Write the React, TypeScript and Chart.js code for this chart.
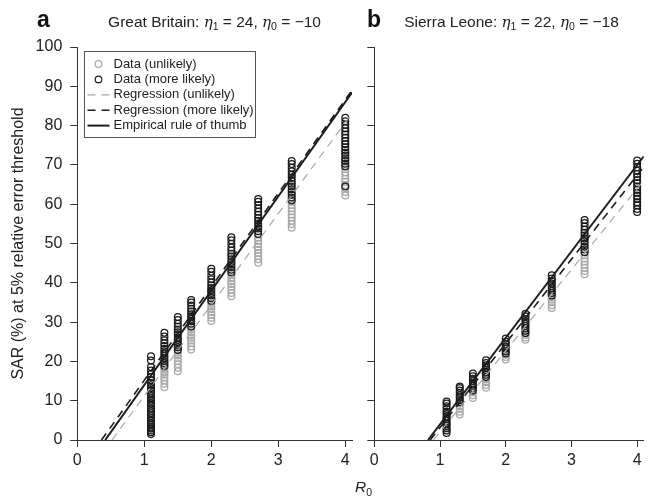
import React, { useEffect, useRef } from 'react';
import { Chart, registerables } from 'chart.js';

Chart.register(...registerables);

const FONT = "'Liberation Sans', Arial, Helvetica, sans-serif";
const BLACK = '#1c1c1c';
const GRAY = '#a9a9a9';
const AXIS = '#333333';

// ---------- data ----------
const R0_VALUES = [1.1, 1.3, 1.5, 1.7, 2.0, 2.3, 2.7, 3.2, 4.0];
const X_TICKS = [0, 1, 2, 3, 4];
const Y_TICKS = [0, 10, 20, 30, 40, 50, 60, 70, 80, 90, 100];
const X_MAX = 4.1;
const Y_MAX = 100;

// Great Britain, SAR values at each R0 (more likely / unlikely scenarios)
const gbLikely: number[][] = [
  [1.5, 2.0, 2.4, 2.9, 3.3, 3.8, 4.2, 4.9, 5.5, 6.1, 6.8, 7.4, 8.0, 8.7, 9.3, 10.0, 10.6, 11.2, 11.9, 12.5, 13.2, 13.9, 14.5, 15.2, 16.0, 16.8, 17.7, 18.6, 20.2, 21.3],
  [18.8, 19.5, 20.1, 20.8, 21.4, 22.0, 22.6, 23.2, 23.9, 24.6, 25.4, 26.3, 27.3],
  [22.9, 23.6, 24.2, 24.9, 25.5, 26.1, 26.8, 27.4, 28.1, 28.8, 29.6, 30.5, 31.3],
  [28.9, 29.6, 30.2, 30.8, 31.4, 32.0, 32.7, 33.4, 34.2, 35.0, 35.6],
  [35.4, 36.1, 36.8, 37.4, 38.1, 38.7, 39.4, 40.1, 40.9, 41.8, 42.8, 43.6],
  [42.6, 43.3, 44.0, 44.7, 45.3, 46.0, 46.7, 47.4, 48.2, 49.0, 49.9, 50.8, 51.6],
  [52.4, 53.1, 53.8, 54.4, 55.1, 55.8, 56.5, 57.3, 58.1, 58.9, 59.8, 60.6, 61.3],
  [61.0, 61.7, 62.4, 63.1, 63.8, 64.5, 65.2, 65.9, 66.7, 67.5, 68.4, 69.3, 70.2, 71.0],
  [64.5, 69.6, 70.3, 71.0, 71.7, 72.4, 73.1, 73.8, 74.5, 75.3, 76.1, 76.9, 77.7, 78.5, 79.3, 80.2, 81.1, 82.0],
];
const gbUnlikely: number[][] = [
  [3.0, 4.5, 6.2, 8.0, 9.7, 11.5, 13.0],
  [13.4, 14.3, 15.2, 15.9, 16.6, 17.2, 17.9, 18.5, 19.2, 20.0],
  [17.5, 18.4, 19.3, 20.1, 20.8, 21.5, 22.2, 22.9, 23.6],
  [23.0, 23.8, 24.6, 25.3, 26.0, 26.7, 27.4, 28.1, 28.8],
  [30.3, 31.1, 31.9, 32.6, 33.3, 34.0, 34.7, 35.4, 36.1],
  [36.6, 37.4, 38.2, 39.0, 39.7, 40.4, 41.2, 42.0, 42.8],
  [45.1, 46.0, 46.8, 47.6, 48.4, 49.1, 49.9, 50.7, 51.5, 52.3],
  [54.0, 54.9, 55.8, 56.6, 57.4, 58.2, 59.0, 59.8, 60.6],
  [62.2, 63.1, 64.0, 64.9, 65.7, 66.5, 67.3, 68.1, 68.9, 69.7, 71.2, 73.0, 75.2],
];

// Sierra Leone
const slLikely: number[][] = [
  [1.8, 2.4, 3.0, 3.6, 4.2, 4.8, 5.4, 6.0, 6.6, 7.2, 7.9, 8.6, 9.3, 9.8],
  [9.6, 10.2, 10.8, 11.4, 12.0, 12.6, 13.2, 13.6],
  [12.6, 13.2, 13.8, 14.4, 15.0, 15.6, 16.2, 16.9],
  [16.0, 16.6, 17.2, 17.8, 18.4, 19.0, 19.6, 20.3],
  [22.0, 22.6, 23.2, 23.8, 24.4, 25.0, 25.8],
  [27.2, 27.8, 28.4, 29.0, 29.6, 30.2, 30.8, 31.5, 32.1],
  [36.8, 37.4, 38.0, 38.6, 39.2, 39.8, 40.4, 41.1, 41.9],
  [47.8, 48.5, 49.2, 49.9, 50.6, 51.3, 52.0, 52.7, 53.5, 54.3, 55.2, 56.0],
  [58.0, 58.8, 59.7, 60.5, 61.3, 62.1, 62.9, 63.7, 64.5, 65.3, 66.1, 66.9, 67.7, 68.5, 69.4, 70.3, 71.1],
];
const slUnlikely: number[][] = [
  [2.5, 4.0, 5.5, 7.0],
  [6.5, 7.2, 7.9, 8.6, 9.3, 9.9],
  [10.7, 11.4, 12.1, 12.8],
  [13.3, 14.0, 14.7, 15.4, 16.1],
  [20.5, 21.1, 21.7, 22.3],
  [25.5, 26.1, 26.7, 27.3],
  [33.6, 34.3, 35.0, 35.7, 36.4, 37.0],
  [42.2, 43.0, 43.8, 44.6, 45.4, 46.2, 47.0, 47.8],
  [60.2, 61.5, 62.8, 64.1, 65.4],
];

// line coefficients [eta1 (slope), eta0 (intercept)]
type Coef = [number, number];
const gbRule: Coef = [24, -10];
const gbRegLikely: Coef = [23.8, -8.6];
const gbRegUnlikely: Coef = [23.2, -12];
const slRule: Coef = [22, -18];
const slRegLikely: Coef = [21.4, -18.2];
const slRegUnlikely: Coef = [20.65, -18.6];

const Y_TITLE = 'SAR (%) at 5% relative error threshold';
const LEGEND_LABELS = [
  'Data (unlikely)',
  'Data (more likely)',
  'Regression (unlikely)',
  'Regression (more likely)',
  'Empirical rule of thumb',
];

// ---------- helpers ----------
function clusterPoints(values: number[][]) {
  return R0_VALUES.flatMap((r, i) => values[i].map((v) => ({ x: r, y: v })));
}
function linePoints([eta1, eta0]: Coef) {
  return [
    { x: -eta0 / eta1, y: 0 },
    { x: X_MAX, y: eta1 * X_MAX + eta0 },
  ];
}

const legendPlugin = {
  id: 'panelLegend',
  afterDraw(chart: any) {
    const ctx = chart.ctx as CanvasRenderingContext2D;
    const { left, top } = chart.chartArea;
    const bx = Math.round(left + 7) + 0.5;
    const by = Math.round(top + 4) + 0.5;
    const bw = 171;
    const bh = 86;
    ctx.save();
    ctx.fillStyle = '#ffffff';
    ctx.fillRect(bx, by, bw, bh);
    ctx.strokeStyle = '#555555';
    ctx.lineWidth = 1;
    ctx.strokeRect(bx, by, bw, bh);
    const styles = [
      { kind: 'circle', color: GRAY },
      { kind: 'circle', color: BLACK },
      { kind: 'dash', color: GRAY, width: 1.2 },
      { kind: 'dash', color: BLACK, width: 1.6 },
      { kind: 'solid', color: BLACK, width: 2 },
    ];
    const x0 = bx + 3;
    const x1 = bx + 25;
    const cx = (x0 + x1) / 2;
    ctx.font = `13px ${FONT}`;
    ctx.textBaseline = 'middle';
    ctx.textAlign = 'left';
    LEGEND_LABELS.forEach((label, i) => {
      const y = by + 12.5 + i * 15.4;
      const st = styles[i];
      ctx.strokeStyle = st.color;
      if (st.kind === 'circle') {
        ctx.lineWidth = 1.2;
        ctx.setLineDash([]);
        ctx.beginPath();
        ctx.arc(cx, y, 3.3, 0, Math.PI * 2);
        ctx.stroke();
      } else {
        ctx.lineWidth = st.width as number;
        ctx.setLineDash(st.kind === 'dash' ? [8, 6] : []);
        ctx.beginPath();
        ctx.moveTo(x0, y);
        ctx.lineTo(x1, y);
        ctx.stroke();
      }
      ctx.setLineDash([]);
      ctx.fillStyle = '#222222';
      ctx.fillText(label, bx + 29, y);
    });
    ctx.restore();
  },
};

function makeConfig(opts: {
  likely: number[][];
  unlikely: number[][];
  rule: Coef;
  regLikely: Coef;
  regUnlikely: Coef;
  yLabels: boolean;
  yAxisWidth: number;
  padRight: number;
  legend: boolean;
}): any {
  const scatterBase = {
    type: 'scatter',
    showLine: false,
    pointStyle: 'circle',
    pointRadius: 3.4,
    pointBorderWidth: 1.25,
    backgroundColor: 'rgba(0,0,0,0)',
    pointBackgroundColor: 'rgba(0,0,0,0)',
  };
  const lineBase = {
    type: 'scatter',
    showLine: true,
    pointRadius: 0,
    fill: false,
    tension: 0,
  };
  return {
    type: 'scatter',
    data: {
      datasets: [
        {
          ...lineBase,
          label: 'Empirical rule of thumb',
          data: linePoints(opts.rule),
          borderColor: BLACK,
          borderWidth: 2,
          order: 0,
        },
        {
          ...lineBase,
          label: 'Regression (more likely)',
          data: linePoints(opts.regLikely),
          borderColor: BLACK,
          borderWidth: 1.6,
          borderDash: [8, 6],
          order: 1,
        },
        {
          ...lineBase,
          label: 'Regression (unlikely)',
          data: linePoints(opts.regUnlikely),
          borderColor: GRAY,
          borderWidth: 1.2,
          borderDash: [8, 6],
          order: 2,
        },
        {
          ...scatterBase,
          label: 'Data (more likely)',
          data: clusterPoints(opts.likely),
          borderColor: BLACK,
          pointBorderColor: BLACK,
          order: 3,
        },
        {
          ...scatterBase,
          label: 'Data (unlikely)',
          data: clusterPoints(opts.unlikely),
          borderColor: GRAY,
          pointBorderColor: GRAY,
          order: 4,
        },
      ],
    },
    options: {
      responsive: false,
      animation: false,
      events: [],
      layout: { padding: { left: 0, right: opts.padRight, top: 47, bottom: 0 } },
      plugins: {
        legend: { display: false },
        tooltip: { enabled: false },
        title: { display: false },
      },
      scales: {
        x: {
          type: 'linear',
          min: 0,
          max: X_MAX,
          afterBuildTicks: (s: any) => {
            s.ticks = X_TICKS.map((v) => ({ value: v }));
          },
          afterFit: (s: any) => {
            s.height = 58;
          },
          grid: { drawOnChartArea: false, drawTicks: true, tickLength: 7, color: AXIS, lineWidth: 1 },
          border: { display: true, color: AXIS, width: 1 },
          ticks: {
            font: { family: FONT, size: 16 },
            color: '#222222',
            padding: 4,
            maxRotation: 0,
            autoSkip: false,
          },
        },
        y: {
          type: 'linear',
          min: 0,
          max: Y_MAX,
          afterBuildTicks: (s: any) => {
            s.ticks = Y_TICKS.map((v) => ({ value: v }));
          },
          afterFit: (s: any) => {
            s.width = opts.yAxisWidth;
          },
          grid: { drawOnChartArea: false, drawTicks: true, tickLength: 7, color: AXIS, lineWidth: 1 },
          border: { display: true, color: AXIS, width: 1 },
          ticks: {
            font: { family: FONT, size: 16 },
            color: '#222222',
            padding: 8,
            autoSkip: false,
            callback: (v: any) => (opts.yLabels ? String(v) : ''),
          },
          title: {
            display: opts.yLabels,
            text: Y_TITLE,
            font: { family: FONT, size: 16 },
            color: '#222222',
            padding: { top: 9, bottom: 0 },
          },
        },
      },
    },
    plugins: opts.legend ? [legendPlugin] : [],
  };
}

function Panel(props: { cfg: any; left: number; width: number }) {
  const ref = useRef<HTMLCanvasElement | null>(null);
  useEffect(() => {
    if (!ref.current) return;
    const chart = new Chart(ref.current, props.cfg);
    return () => chart.destroy();
  }, []);
  return (
    <canvas
      ref={ref}
      width={props.width}
      height={498}
      style={{ position: 'absolute', left: props.left, top: 0, width: props.width, height: 498, display: 'block' }}
    />
  );
}

const subStyle: React.CSSProperties = { fontSize: 10.5, verticalAlign: '-3px', lineHeight: 0 };
const etaStyle: React.CSSProperties = { fontStyle: 'italic', fontFamily: "'DejaVu Serif', serif", fontSize: 15 };

function Title(props: { left: number; width: number; name: string; eta1: number; eta0: number }) {
  const fmt = (n: number) => (n < 0 ? `\u2212${Math.abs(n)}` : String(n));
  return (
    <div
      style={{
        position: 'absolute',
        left: props.left,
        width: props.width,
        top: 14,
        textAlign: 'center',
        font: `15.5px ${FONT}`,
        lineHeight: '16px',
        color: '#222222',
        whiteSpace: 'nowrap',
      }}
    >
      {props.name}: <span style={etaStyle}>η</span>
      <sub style={subStyle}>1</sub> = {fmt(props.eta1)}, <span style={etaStyle}>η</span>
      <sub style={subStyle}>0</sub> = {fmt(props.eta0)}
    </div>
  );
}

export default function App() {
  const cfgA = makeConfig({
    likely: gbLikely,
    unlikely: gbUnlikely,
    rule: gbRule,
    regLikely: gbRegLikely,
    regUnlikely: gbRegUnlikely,
    yLabels: true,
    yAxisWidth: 77.3,
    padRight: 10,
    legend: true,
  });
  const cfgB = makeConfig({
    likely: slLikely,
    unlikely: slUnlikely,
    rule: slRule,
    regLikely: slRegLikely,
    regUnlikely: slRegUnlikely,
    yLabels: false,
    yAxisWidth: 12.3,
    padRight: 0,
    legend: false,
  });
  const letter: React.CSSProperties = {
    position: 'absolute',
    top: 8,
    font: `bold 23px ${FONT}`,
    lineHeight: '23px',
    color: '#111111',
  };
  return (
    <div style={{ position: 'absolute', left: 0, top: 0, width: 649, height: 498, background: '#ffffff', overflow: 'hidden' }}>
      <Panel cfg={cfgA} left={0} width={362} />
      <Panel cfg={cfgB} left={362} width={287} />
      <div style={{ ...letter, left: 37 }}>a</div>
      <div style={{ ...letter, left: 367 }}>b</div>
      <Title left={77} width={275} name="Great Britain" eta1={gbRule[0]} eta0={gbRule[1]} />
      <Title left={374} width={275} name="Sierra Leone" eta1={slRule[0]} eta0={slRule[1]} />
      <div
        style={{
          position: 'absolute',
          left: 355,
          top: 479,
          font: `italic 15.5px ${FONT}`,
          lineHeight: '15px',
          color: '#222222',
        }}
      >
        R<sub style={{ fontStyle: 'normal', fontSize: 10.5, verticalAlign: '-4px', lineHeight: 0 }}>0</sub>
      </div>
    </div>
  );
}
